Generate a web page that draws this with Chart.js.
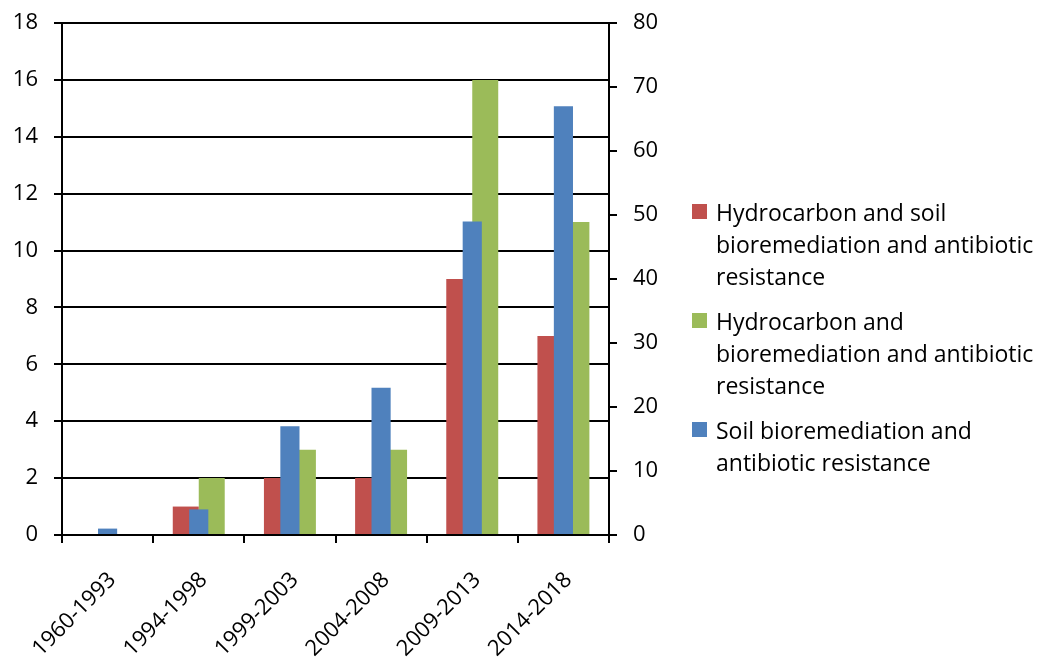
<!DOCTYPE html>
<html>
<head>
<meta charset="utf-8">
<script src="https://cdn.jsdelivr.net/npm/chart.js@4.4.0/dist/chart.umd.min.js"></script>
<style>
  html, body { margin: 0; padding: 0; background: #fff; }
  #wrap { position: relative; width: 1042px; height: 658px; }
  #legend {
    position: absolute; left: 692px; top: 196px; width: 349px;
    font-family: "Open Sans", sans-serif; font-size: 23px; line-height: 32px; color: #000;
  }
  .item { position: relative; padding-left: 24px; margin-bottom: 13px; }
  .box { position: absolute; left: 0; top: 8px; width: 15px; height: 15px; }
</style>
</head>
<body>
<div id="wrap">
  <canvas id="chart" width="1042" height="658"></canvas>
  <div id="legend"></div>
</div>
<script>
const periods = ['1960-1993', '1994-1998', '1999-2003', '2004-2008', '2009-2013', '2014-2018'];
const hydroSoil = [0, 1, 2, 2, 9, 7];
const hydro = [0, 2, 3, 3, 16, 11];
const soil = [1, 4, 17, 23, 49, 67];
const leftTicks = [0, 2, 4, 6, 8, 10, 12, 14, 16, 18];
const rightTicks = [0, 10, 20, 30, 40, 50, 60, 70, 80];

const RED = '#C0504D', GREEN = '#9BBB59', BLUE = '#4F81BD';
const TICK_FONT = { family: '"Open Sans", sans-serif', size: 22 };
const X_FONT = { family: '"Open Sans", sans-serif', size: 22 };

const datasets = [
  { label: 'Hydrocarbon and soil bioremediation and antibiotic resistance', data: hydroSoil,
    backgroundColor: RED, yAxisID: 'y', order: 1, categoryPercentage: 0.57, barPercentage: 1.0 },
  { label: 'Hydrocarbon and bioremediation and antibiotic resistance', data: hydro,
    backgroundColor: GREEN, yAxisID: 'y', order: 1, categoryPercentage: 0.57, barPercentage: 1.0 },
  { label: 'Soil bioremediation and antibiotic resistance', data: soil,
    backgroundColor: BLUE, yAxisID: 'y1', order: 0, grouped: false, categoryPercentage: 0.21, barPercentage: 1.0 },
];

// chart.js reserves tick padding on both sides of the labels; trim it back
const fitValueAxis = (axis) => {
  axis.width = 49;
  axis.paddingTop = 0;
  axis.paddingBottom = 0;
};

new Chart(document.getElementById('chart'), {
  type: 'bar',
  data: { labels: periods, datasets },
  options: {
    responsive: false,
    animation: false,
    layout: { padding: { left: 13, right: 384, top: 23, bottom: 0 } },
    plugins: { legend: { display: false }, tooltip: { enabled: false } },
    scales: {
      x: {
        grid: { display: true, drawOnChartArea: false, offset: true, color: '#000', lineWidth: 2, tickLength: 8 },
        border: { display: true, color: '#000', width: 2 },
        ticks: { color: '#000', font: X_FONT, minRotation: 45, maxRotation: 45, padding: 24, labelOffset: 5 },
        afterFit: (axis) => {
          axis.paddingLeft = 0;
          axis.paddingRight = 0;
          axis.height = 123;
        },
      },
      y: {
        position: 'left', min: 0, max: 18,
        afterBuildTicks: (axis) => { axis.ticks = leftTicks.map((v) => ({ value: v })); },
        afterFit: fitValueAxis,
        grid: { color: '#000', lineWidth: 2, tickLength: 8 },
        border: { display: true, color: '#000', width: 2 },
        ticks: { color: '#000', font: TICK_FONT, padding: 16 },
      },
      y1: {
        position: 'right', min: 0, max: 80,
        afterBuildTicks: (axis) => { axis.ticks = rightTicks.map((v) => ({ value: v })); },
        afterFit: fitValueAxis,
        grid: { drawOnChartArea: false, color: '#000', lineWidth: 2, tickLength: 8 },
        border: { display: true, color: '#000', width: 2 },
        ticks: { color: '#000', font: TICK_FONT, padding: 16 },
      },
    },
  },
});

const legend = document.getElementById('legend');
datasets.forEach((ds) => {
  const item = document.createElement('div');
  item.className = 'item';
  const box = document.createElement('span');
  box.className = 'box';
  box.style.background = ds.backgroundColor;
  item.appendChild(box);
  item.appendChild(document.createTextNode(ds.label));
  legend.appendChild(item);
});
</script>
</body>
</html>
